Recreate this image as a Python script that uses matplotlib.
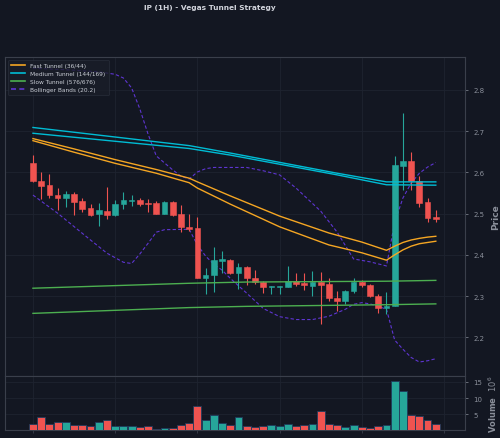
import numpy as np
import matplotlib
matplotlib.use("Agg")
import matplotlib.pyplot as plt

# OHLC (1H candles)
opens  = [2.622, 2.580, 2.569, 2.545, 2.538, 2.547, 2.530, 2.513, 2.498, 2.506,
          2.497, 2.523, 2.530, 2.534, 2.526, 2.526, 2.500, 2.529, 2.499, 2.467,
          2.464, 2.344, 2.352, 2.385, 2.388, 2.355, 2.371, 2.343, 2.334, 2.321,
          2.321, 2.323, 2.336, 2.331, 2.325, 2.333, 2.329, 2.295, 2.287, 2.312,
          2.334, 2.327, 2.300, 2.270, 2.276, 2.616, 2.627, 2.578, 2.527, 2.491]
highs  = [2.642, 2.600, 2.596, 2.561, 2.555, 2.553, 2.537, 2.523, 2.526, 2.564,
          2.534, 2.553, 2.546, 2.538, 2.535, 2.530, 2.530, 2.530, 2.521, 2.499,
          2.491, 2.368, 2.418, 2.410, 2.390, 2.380, 2.372, 2.363, 2.336, 2.325,
          2.325, 2.373, 2.357, 2.355, 2.360, 2.359, 2.343, 2.312, 2.314, 2.343,
          2.339, 2.330, 2.304, 2.310, 2.640, 2.744, 2.650, 2.592, 2.539, 2.509]
lows   = [2.576, 2.535, 2.539, 2.509, 2.515, 2.496, 2.503, 2.495, 2.470, 2.488,
          2.495, 2.511, 2.518, 2.518, 2.503, 2.498, 2.499, 2.495, 2.456, 2.458,
          2.343, 2.304, 2.309, 2.357, 2.353, 2.318, 2.326, 2.329, 2.307, 2.304,
          2.304, 2.323, 2.325, 2.315, 2.300, 2.232, 2.288, 2.264, 2.280, 2.307,
          2.321, 2.297, 2.260, 2.256, 2.276, 2.558, 2.557, 2.515, 2.479, 2.479]
closes = [2.580, 2.566, 2.545, 2.538, 2.547, 2.529, 2.511, 2.497, 2.508, 2.497,
          2.523, 2.533, 2.534, 2.524, 2.524, 2.500, 2.529, 2.497, 2.467, 2.462,
          2.345, 2.352, 2.388, 2.390, 2.356, 2.371, 2.343, 2.334, 2.321, 2.323,
          2.323, 2.336, 2.330, 2.326, 2.333, 2.328, 2.295, 2.287, 2.312, 2.335,
          2.326, 2.299, 2.271, 2.276, 2.618, 2.627, 2.579, 2.526, 2.489, 2.487]
volumes = [2.05, 4.2, 2.2, 2.8, 2.7, 1.75, 1.75, 1.55, 2.8, 3.2,
           1.35, 1.35, 1.45, 1.05, 1.55, 0.65, 0.95, 0.85, 1.75, 2.5,
           7.7, 3.3, 4.8, 2.35, 1.65, 4.3, 1.55, 1.15, 1.55, 1.75,
           1.35, 2.05, 1.35, 1.75, 2.05, 6.0, 2.05, 1.85, 1.25, 1.75,
           1.05, 0.95, 1.45, 1.75, 15.3, 12.25, 4.9, 4.6, 3.2, 2.05]  # millions

# Indicator lines, sampled at candle indices
fast_x = [0, 5, 10, 15, 19, 20, 24, 30, 36, 40, 43, 44, 45, 46, 47, 48, 49]
ema36  = [2.677, 2.649, 2.622, 2.598, 2.575, 2.562, 2.523, 2.468, 2.424, 2.405,
          2.387, 2.400, 2.412, 2.421, 2.427, 2.430, 2.433]
ema44  = [2.682, 2.657, 2.631, 2.607, 2.586, 2.577, 2.543, 2.494, 2.453, 2.431,
          2.411, 2.421, 2.430, 2.436, 2.440, 2.443, 2.445]
med_x  = [0, 19, 24, 37, 43, 49]
ema144 = [2.695, 2.658, 2.642, 2.594, 2.570, 2.569]
ema169 = [2.709, 2.665, 2.647, 2.598, 2.577, 2.577]
slow_x = [0, 19, 26, 43, 49]
ema576 = [2.319, 2.331, 2.334, 2.336, 2.338]
ema676 = [2.258, 2.272, 2.275, 2.279, 2.281]

bbu_x = [0, 4, 8, 10, 11, 12, 13, 14, 15, 16, 17, 18, 19, 20, 21, 22, 26, 28, 30,
         32, 35, 37, 39, 41, 43, 44, 45, 46, 47, 48, 49]
bb_up = [2.853, 2.849, 2.844, 2.838, 2.829, 2.805, 2.754, 2.693, 2.640, 2.623,
         2.606, 2.591, 2.584, 2.601, 2.609, 2.612, 2.612, 2.604, 2.594, 2.562,
         2.506, 2.455, 2.390, 2.383, 2.373, 2.479, 2.538, 2.574, 2.598, 2.613, 2.624]
bbl_x = [0, 3, 7, 9, 11, 12, 13, 14, 15, 16, 19, 20, 21, 22, 23, 24, 26, 28, 30,
         32, 34, 36, 38, 39, 40, 41, 42, 43, 44, 45, 46, 47, 48, 49]
bb_lo = [2.545, 2.501, 2.436, 2.404, 2.382, 2.379, 2.402, 2.428, 2.455, 2.461,
         2.462, 2.424, 2.397, 2.377, 2.363, 2.343, 2.307, 2.270, 2.250, 2.243,
         2.243, 2.251, 2.268, 2.280, 2.284, 2.281, 2.275, 2.268, 2.193, 2.171,
         2.151, 2.140, 2.143, 2.148]

price_ticks = [2.2, 2.3, 2.4, 2.5, 2.6, 2.7, 2.8]
vol_ticks = [5, 10, 15]

BG = '#131722'
UP = '#26a69a'
DOWN = '#ef5350'
GRID = '#1e2330'
SPINE = '#3a3f4b'
TXT = '#8a8f9a'

fig = plt.figure(figsize=(5, 4.39), dpi=100, facecolor=BG)
ax = fig.add_axes([0.01, 0.1412, 0.92, 0.7267], facecolor=BG)
axv = fig.add_axes([0.01, 0.0182, 0.92, 0.123], facecolor=BG, sharex=ax)

x = np.arange(len(opens))
o = np.array(opens); c = np.array(closes)
cols = [UP if cc >= oo else DOWN for oo, cc in zip(o, c)]

# candles
ax.vlines(x, lows, highs, colors=cols, linewidth=0.8, zorder=3)
body_lo = np.minimum(o, c)
body_h = np.maximum(np.abs(c - o), 0.0025)
ax.bar(x, body_h, bottom=body_lo, width=0.7, color=cols, edgecolor=cols,
       linewidth=0.4, zorder=4)

# tunnels
ax.plot(fast_x, ema36, color='#f5a623', lw=1.0, label='Fast Tunnel (36/44)', zorder=5)
ax.plot(fast_x, ema44, color='#f5a623', lw=1.0, zorder=5)
ax.plot(med_x, ema144, color='#00bcd4', lw=1.0, label='Medium Tunnel (144/169)', zorder=5)
ax.plot(med_x, ema169, color='#00bcd4', lw=1.0, zorder=5)
ax.plot(slow_x, ema576, color='#4caf50', lw=1.0, label='Slow Tunnel (576/676)', zorder=5)
ax.plot(slow_x, ema676, color='#4caf50', lw=1.0, zorder=5)
ax.plot(bbu_x, bb_up, color='#5e35d1', lw=0.8, ls=(0, (3, 2)),
        label='Bollinger Bands (20.2)', zorder=2)
ax.plot(bbl_x, bb_lo, color='#5e35d1', lw=0.8, ls=(0, (3, 2)), zorder=2)

ax.set_xlim(-3.4, 52.55)
ax.set_ylim(2.106, 2.880)
ax.set_yticks(price_ticks)
ax.set_yticklabels([f'{t:.1f}' for t in price_ticks])
ax.set_xticks(range(0, 51, 10))
ax.yaxis.tick_right()
ax.yaxis.set_label_position('right')
ax.set_ylabel('Price', color=TXT, fontsize=6.5, fontweight='bold', labelpad=5)
ax.tick_params(axis='y', colors=TXT, labelsize=5, length=2.5, width=0.5)
ax.tick_params(axis='x', labelbottom=False, length=0)
ax.grid(True, color=GRID, linewidth=0.6)

leg = ax.legend(loc='upper left', fontsize=4.2, frameon=True, facecolor='#1a1e29',
                edgecolor='#2e3340', labelcolor='#c8ccd4', borderpad=0.6,
                handlelength=2.4, labelspacing=0.45)
leg.get_frame().set_linewidth(0.5)
for line in leg.get_lines():
    line.set_linewidth(1.2)

# volume
axv.bar(x, volumes, width=0.95, color=cols, edgecolor='#1f3b5c', linewidth=0.6, zorder=3)
axv.set_ylim(0.3 * min(volumes), 1.1 * max(volumes))
axv.set_yticks(vol_ticks)
axv.yaxis.tick_right()
axv.yaxis.set_label_position('right')
axv.set_ylabel('Volume  $10^{6}$', color=TXT, fontsize=6, fontweight='bold', labelpad=3)
axv.tick_params(axis='y', colors=TXT, labelsize=5, length=2.5, width=0.5)
axv.tick_params(axis='x', labelbottom=False, colors=SPINE, length=2.5, width=0.6)
axv.grid(True, color=GRID, linewidth=0.6)

for a in (ax, axv):
    for s in a.spines.values():
        s.set_color(SPINE)
        s.set_linewidth(0.8)

fig.text(0.42, 0.982, 'IP (1H) - Vegas Tunnel Strategy', ha='center', va='center',
         color='#d1d4dc', fontsize=5.3, fontweight='bold')

fig.savefig('out.png', dpi=100, facecolor=BG)
